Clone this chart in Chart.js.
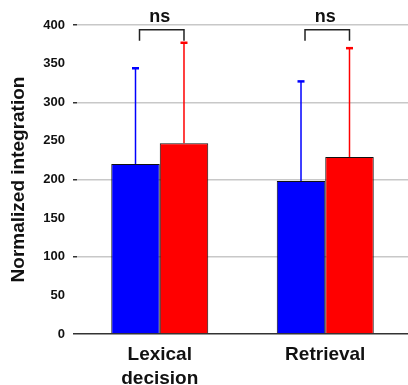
<!DOCTYPE html>
<html>
<head>
<meta charset="utf-8">
<script src="https://cdn.jsdelivr.net/npm/chart.js@4.4.1/dist/chart.umd.min.js"></script>
<style>
  html, body { margin: 0; padding: 0; background: #fff; }
  #wrap { width: 408px; height: 385px; }
</style>
</head>
<body>
<div id="wrap"><canvas id="chart"></canvas></div>
<script>
// Datos: medias y desviaciones por tarea
const categories = [['Lexical', 'decision'], 'Retrieval'];
const blueMeans = [220, 198];
const blueErrors = [124, 129];
const redMeans = [247, 229];
const redErrors = [130, 141];
const significance = ['ns', 'ns'];

const FONT = "'Liberation Sans', Arial, sans-serif";

// Barras de error (solo hacia arriba) con remate corto
const errorBars = {
  id: 'errorBars',
  afterDatasetsDraw(chart) {
    const ctx = chart.ctx;
    const y = chart.scales.y;
    chart.data.datasets.forEach((ds, di) => {
      const meta = chart.getDatasetMeta(di);
      meta.data.forEach((bar, i) => {
        const top = y.getPixelForValue(ds.data[i] + ds.errors[i]);
        ctx.save();
        ctx.strokeStyle = ds.backgroundColor;
        ctx.lineWidth = 1.5;
        ctx.beginPath();
        ctx.moveTo(bar.x, bar.y);
        ctx.lineTo(bar.x, top);
        ctx.stroke();
        ctx.lineWidth = 2.5;
        ctx.beginPath();
        ctx.moveTo(bar.x - 3.5, top);
        ctx.lineTo(bar.x + 3.5, top);
        ctx.stroke();
        ctx.restore();
      });
    });
  }
};

// Corchetes de comparación con la etiqueta "ns"
const brackets = {
  id: 'brackets',
  afterDraw(chart) {
    const ctx = chart.ctx;
    const y = chart.scales.y;
    const x = chart.scales.x;
    const blue = chart.getDatasetMeta(0).data;
    const red = chart.getDatasetMeta(1).data;
    significance.forEach((label, i) => {
      const x1 = blue[i].x + 4;
      const x2 = red[i].x;
      const top = y.getPixelForValue(394);
      const legs = 11;
      ctx.save();
      ctx.strokeStyle = '#222';
      ctx.lineWidth = 1.5;
      ctx.beginPath();
      ctx.moveTo(x1, top + legs);
      ctx.lineTo(x1, top);
      ctx.lineTo(x2, top);
      ctx.lineTo(x2, top + legs);
      ctx.stroke();
      ctx.fillStyle = '#111';
      ctx.font = 'bold 18px ' + FONT;
      ctx.textAlign = 'center';
      ctx.textBaseline = 'alphabetic';
      ctx.fillText(label, x.getPixelForValue(i), top - 8);
      ctx.restore();
    });
  }
};

new Chart(document.getElementById('chart'), {
  type: 'bar',
  data: {
    labels: categories,
    datasets: [
      {
        label: 'Blue',
        data: blueMeans,
        errors: blueErrors,
        backgroundColor: '#0000ff',
        borderColor: '#111',
        borderWidth: 1
      },
      {
        label: 'Red',
        data: redMeans,
        errors: redErrors,
        backgroundColor: '#ff0000',
        borderColor: '#111',
        borderWidth: 1
      }
    ]
  },
  options: {
    responsive: true,
    maintainAspectRatio: false,
    animation: false,
    layout: { padding: { top: 25, right: 0, left: 0, bottom: 0 } },
    plugins: {
      legend: { display: false },
      tooltip: { enabled: false }
    },
    datasets: {
      bar: { categoryPercentage: 0.586, barPercentage: 1.0 }
    },
    scales: {
      x: {
        grid: { display: false },
        border: { display: false },
        ticks: {
          color: '#111',
          padding: 0,
          font: { family: FONT, size: 19, weight: 'bold', lineHeight: 1.3 }
        },
        afterFit(scale) { scale.height = 51; }
      },
      y: {
        min: 0,
        max: 400,
        border: { display: false },
        grid: {
          lineWidth: 1.5,
          tickLength: 4,
          color: c => c.tick.value === 0 ? '#333' : (c.tick.value % 100 === 0 ? '#c8c8c8' : 'rgba(0,0,0,0)'),
          tickColor: c => c.tick.value % 100 === 0 ? '#333' : 'rgba(0,0,0,0)'
        },
        ticks: {
          stepSize: 50,
          color: '#111',
          padding: 8,
          font: { family: FONT, size: 13, weight: 'bold' }
        },
        title: {
          display: true,
          text: 'Normalized integration',
          color: '#111',
          padding: { top: 7, bottom: 0 },
          font: { family: FONT, size: 19, weight: 'bold' }
        },
        afterFit(scale) { scale.width = 77; }
      }
    }
  },
  plugins: [errorBars, brackets]
});
</script>
</body>
</html>
